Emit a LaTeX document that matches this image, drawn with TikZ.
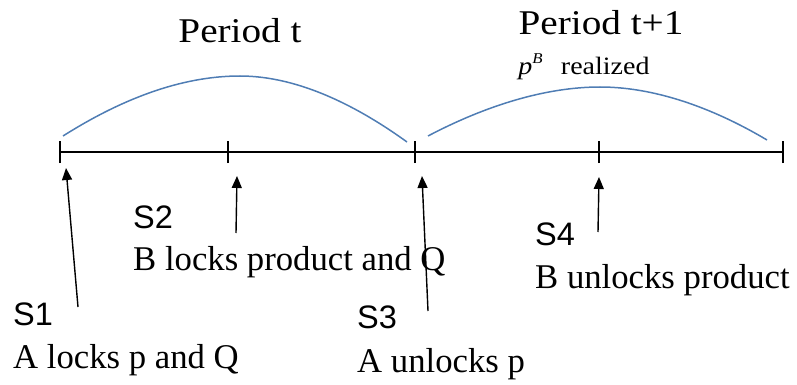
\documentclass[tikz,border=0pt]{standalone}
\usepackage{fontspec}
\setmainfont{Liberation Serif}
\setsansfont{Liberation Sans}
\usetikzlibrary{arrows.meta}
\definecolor{curveblue}{RGB}{79,125,180}
\tikzset{
  timeline/.style={line width=1.5pt, black},
  tickmark/.style={line width=1.5pt, black},
  period/.style={curveblue, line width=1.5pt},
  uparrow/.style={line width=1.4pt, -{Triangle[length=12pt,width=10pt]}},
  steplabel/.style={anchor=base west, inner sep=0pt, font=\sffamily\fontsize{32.5}{36}\selectfont},
  desclabel/.style={anchor=base west, inner sep=0pt, font=\rmfamily\fontsize{34.7}{40}\selectfont},
  periodlabel/.style={anchor=base, inner sep=0pt, font=\rmfamily\fontsize{34.7}{40}\selectfont},
  reallabel/.style={anchor=base, inner sep=0pt, font=\rmfamily\fontsize{25}{30}\selectfont}
}
\begin{document}
\begin{tikzpicture}[x=1pt,y=-1pt]
\useasboundingbox (0,0) rectangle (797,385);
% timeline and ticks
\coordinate (t0) at (60,152);
\coordinate (t1) at (228,152);
\coordinate (t2) at (415,152);
\coordinate (t3) at (599,152);
\coordinate (t4) at (783,152);
\draw[timeline] (t0) -- (t4);
\foreach \c in {t0,t1,t2,t3,t4}
  \draw[tickmark] ([yshift=-11pt]\c) -- ([yshift=11pt]\c);
% period curves
\draw[period] (63,136) .. controls (120,100) and (180,76) .. (240,76)
   .. controls (300,76) and (360,108) .. (407,142);
\draw[period] (428,136) .. controls (485,106) and (545,87) .. (600,87)
   .. controls (660,87) and (720,112) .. (767,140);
% labels
\node[periodlabel] (pt) at (240,43) {\scalebox{1.13}[1]{Period t}};
\node[periodlabel] (pt1) at (601,35) {\scalebox{1.13}[1]{Period t+1}};
\node[reallabel] (pb) at (584,75) {\scalebox{1.12}[1]{\textit{p}\raisebox{0.45em}{\fontsize{15}{18}\selectfont\textit{B}}\hspace{0.4em} realized}};
\node[steplabel] (s1) at (13,325) {S1};
\node[desclabel] (d1) at (13,368) {A locks p and Q};
\node[steplabel] (s2) at (133,228) {S2};
\node[desclabel] (d2) at (133,270) {B locks product and Q};
\node[steplabel] (s3) at (357,328) {S3};
\node[desclabel] (d3) at (357,372) {A unlocks p};
\node[steplabel] (s4) at (535,245) {S4};
\node[desclabel] (d4) at (535,288) {B unlocks product};
% arrows
\coordinate (a1s) at (78,307); \coordinate (a1e) at (66,168);
\coordinate (a2s) at (236,233); \coordinate (a2e) at (237,176);
\coordinate (a3s) at (428,311); \coordinate (a3e) at (422,176);
\coordinate (a4s) at (598,232); \coordinate (a4e) at (599,177);
\draw[uparrow] (a1s) -- (a1e);
\draw[uparrow] (a2s) -- (a2e);
\draw[uparrow] (a3s) -- (a3e);
\draw[uparrow] (a4s) -- (a4e);
\end{tikzpicture}
\end{document}
